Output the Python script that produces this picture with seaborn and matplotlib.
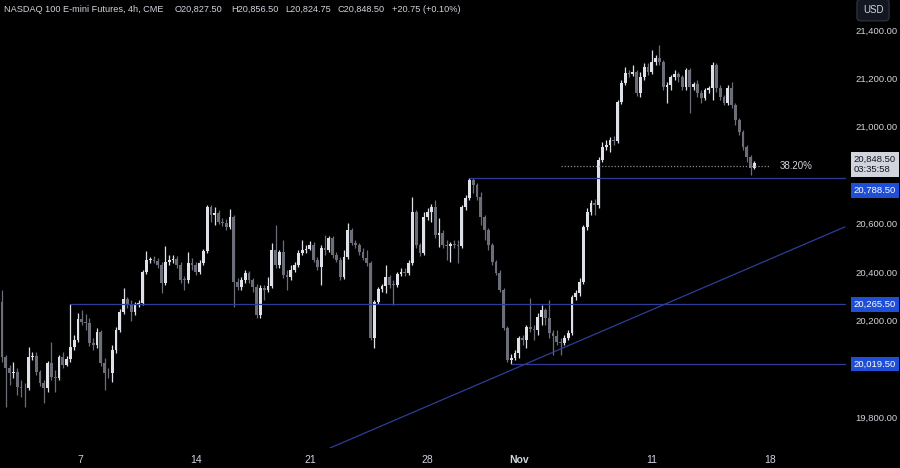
import numpy as np
import pandas as pd
import matplotlib
matplotlib.use("Agg")
import matplotlib.pyplot as plt
import matplotlib.transforms as mtransforms
import seaborn as sns

# NASDAQ 100 E-mini futures, 4h candles
first_open = 20276
closes = [
    20048, 20003, 19982, 19986, 19924, 19920, 19918, 20048, 20052, 19986,
    19941, 19920, 20023, 19965, 19962, 20048, 20015, 20040, 20090, 20118,
    20205, 20193, 20189, 20106, 20098, 20152, 20023, 19982, 19980, 20077,
    20160, 20234, 20288, 20263, 20234, 20263, 20271, 20400, 20449, 20450,
    20447, 20429, 20354, 20441, 20449, 20453, 20429, 20367, 20365, 20437,
    20429, 20400, 20437, 20486, 20668, 20635, 20643, 20606, 20602, 20586,
    20627, 20358, 20338, 20367, 20395, 20367, 20338, 20222, 20333, 20325,
    20342, 20490, 20429, 20482, 20387, 20379, 20408, 20429, 20478, 20490,
    20495, 20511, 20449, 20420, 20499, 20490, 20540, 20470, 20449, 20379,
    20462, 20573, 20519, 20511, 20482, 20457, 20437, 20127, 20276, 20329,
    20342, 20379, 20346, 20344, 20391, 20400, 20395, 20437, 20648, 20511,
    20478, 20627, 20648, 20668, 20553, 20561, 20511, 20509, 20515, 20511,
    20507, 20668, 20705, 20780, 20759, 20710, 20627, 20573, 20511, 20441,
    20395, 20325, 20168, 20036, 20044, 20065, 20127, 20118, 20172, 20164,
    20160, 20214, 20242, 20209, 20147, 20135, 20110, 20106, 20127, 20147,
    20296, 20313, 20358, 20586, 20648, 20685, 20677, 20863, 20916, 20925,
    20945, 20941, 21102, 21181, 21222, 21220, 21226, 21140, 21206, 21247,
    21226, 21268, 21284, 21268, 21164, 21173, 21206, 21218, 21206, 21164,
    21235, 21164, 21177, 21140, 21119, 21152, 21160, 21255, 21160, 21123,
    21098, 21160, 21090, 21028, 20978, 20916, 20875, 20827.5, 20848.5,
]
highs = [
    20325, 20056, 20015, 20027, 20003, 19953, 19941, 20090, 20069, 20069,
    19994, 19953, 20032, 20110, 19994, 20056, 20069, 20052, 20265.5, 20139,
    20230, 20242, 20226, 20209, 20127, 20168, 20160, 20044, 20003, 20098,
    20172, 20247, 20333, 20296, 20284, 20276, 20284, 20408, 20486, 20462,
    20466, 20457, 20441, 20507, 20470, 20470, 20466, 20441, 20383, 20482,
    20457, 20441, 20449, 20495, 20677, 20677, 20668, 20656, 20623, 20619,
    20660, 20635, 20375, 20379, 20408, 20404, 20375, 20350, 20346, 20346,
    20379, 20519, 20594, 20490, 20532, 20408, 20429, 20441, 20490, 20532,
    20511, 20528, 20524, 20462, 20511, 20553, 20548, 20548, 20482, 20462,
    20490, 20602, 20581, 20532, 20519, 20499, 20490, 20445, 20284, 20338,
    20350, 20429, 20387, 20367, 20400, 20416, 20416, 20449, 20710, 20656,
    20519, 20648, 20664, 20681, 20697, 20623, 20573, 20532, 20524, 20532,
    20532, 20677, 20718, 20788.5, 20788, 20767, 20730, 20635, 20581, 20519,
    20449, 20408, 20333, 20176, 20061, 20077, 20135, 20139, 20180, 20292,
    20180, 20230, 20263, 20251, 20284, 20160, 20160, 20127, 20139, 20160,
    20305, 20325, 20375, 20594, 20664, 20697, 20701, 20875, 20937, 20945,
    20958, 20962, 21111, 21193, 21247, 21235, 21255, 21235, 21226, 21264,
    21264, 21317, 21297, 21338, 21276, 21185, 21214, 21235, 21226, 21214,
    21243, 21243, 21185, 21193, 21152, 21160, 21168, 21268, 21264, 21173,
    21131, 21173, 21185, 21098, 21036, 20987, 20925, 20883, 20856.5,
]
lows = [
    20027, 19841, 19932, 19961, 19891, 19883, 19841, 19912, 20036, 19974,
    19928, 19858, 19903, 19953, 19903, 19953, 20003, 20011, 20027, 20077,
    20110, 20180, 20160, 20094, 20077, 20085, 20011, 19912, 19961, 19945,
    20065, 20152, 20226, 20251, 20197, 20222, 20255, 20263, 20391, 20437,
    20437, 20416, 20313, 20346, 20429, 20437, 20416, 20354, 20325, 20354,
    20408, 20387, 20391, 20429, 20478, 20606, 20594, 20598, 20590, 20573,
    20577, 20255, 20325, 20325, 20354, 20354, 20317, 20209, 20209, 20284,
    20317, 20333, 20416, 20416, 20375, 20325, 20367, 20400, 20420, 20470,
    20478, 20490, 20441, 20408, 20346, 20470, 20482, 20457, 20441, 20367,
    20371, 20453, 20511, 20499, 20470, 20449, 20424, 20118, 20085, 20267,
    20317, 20313, 20333, 20263, 20338, 20383, 20383, 20387, 20429, 20499,
    20466, 20470, 20614, 20606, 20540, 20503, 20499, 20449, 20441, 20499,
    20437, 20499, 20656, 20697, 20726, 20697, 20594, 20532, 20490, 20429,
    20387, 20317, 20160, 20027, 20019.5, 20036, 20044, 20098, 20085, 20152,
    20118, 20139, 20180, 20180, 20127, 20056, 20098, 20056, 20098, 20118,
    20139, 20284, 20300, 20350, 20573, 20635, 20635, 20664, 20854, 20904,
    20896, 20925, 20933, 21094, 21173, 21206, 21210, 21127, 21123, 21193,
    21214, 21218, 21255, 21255, 21152, 21098, 21152, 21193, 21185, 21152,
    21152, 21057, 21152, 21123, 21098, 21111, 21140, 21111, 21144, 21111,
    21090, 21090, 21078, 21007, 20966, 20904, 20854, 20801, 20824.75,
]

# drawn levels
levels = [20788.5, 20265.5, 20019.5]
level_start_bar = [123, 18, 134]
fib_level = 20836
fib_label = "38.20%"
trend_bars = [86.3, 221.8]
trend_prices = [19672, 20586]

last_price = 20848.5
countdown = "03:35:58"

date_labels = ["7", "14", "21", "28", "Nov", "11", "18"]
date_bars = [20.5, 51, 81, 112, 136, 171, 202]
price_ticks = [19800, 20200, 20400, 20600, 21000, 21200, 21400]

header_parts = ["NASDAQ 100 E-mini Futures, 4h, CME", "O20,827.50", "H20,856.50",
                "L20,824.75", "C20,848.50", "+20.75 (+0.10%)"]
header_px = [4, 175, 231, 285, 338, 392]

df = pd.DataFrame({"close": closes, "high": highs, "low": lows})
df["open"] = [first_open] + closes[:-1]
df["bar"] = np.arange(len(df))
df["up"] = df["close"] >= df["open"]

sns.set_theme(style="dark", rc={
    "axes.facecolor": "black", "figure.facecolor": "black",
    "axes.edgecolor": "black", "grid.color": "black",
})
plt.rcParams["font.family"] = ["Liberation Sans", "DejaVu Sans"]

fig = plt.figure(figsize=(9, 4.68), dpi=100)
ax = fig.add_axes([0, 20 / 468, 846 / 900, 448 / 468])
ax.set_facecolor("black")

up_col = "#dfe1e8"
dn_col = "#6b6e78"
line_col = "#2e3d98"
text_col = "#d1d4dc"

colors = np.where(df["up"], up_col, dn_col)
ax.vlines(df["bar"], df["low"], df["high"], colors=colors, lw=0.9)
body_h = (df["close"] - df["open"]).abs().clip(lower=4)
body_b = df[["open", "close"]].min(axis=1)
ax.bar(df["bar"], body_h, bottom=body_b, width=0.72, color=colors, linewidth=0)

x_right = 222.1
for lvl, start in zip(levels, level_start_bar):
    ax.hlines(lvl, start, x_right, color=line_col, lw=0.9)

sns.lineplot(x=trend_bars, y=trend_prices, ax=ax, color=line_col, lw=0.9)
ax.hlines(fib_level, 147, 202, color="#8a8d96", lw=0.9, linestyles=(0, (1, 1.5)))
ax.text(209, fib_level, fib_label, color=text_col, fontsize=7, ha="center", va="center")

ax.set_xlim(-0.53, x_right)
ax.set_ylim(19672, 21524)
ax.grid(False)

ax.set_xticks(date_bars)
ax.set_xticklabels(date_labels)
for lab in ax.get_xticklabels():
    lab.set_color(text_col)
    lab.set_fontsize(7.5)
    if lab.get_text() == "Nov":
        lab.set_fontweight("bold")
ax.tick_params(axis="x", length=0, pad=5)

ax.yaxis.tick_right()
ax.set_yticks(price_ticks)
ax.set_yticklabels([f"{p:,.2f}" for p in price_ticks])
ax.tick_params(axis="y", length=0, pad=7, labelsize=6.8, labelcolor=text_col)
for s in ax.spines.values():
    s.set_visible(False)

trans = mtransforms.blended_transform_factory(fig.transFigure, ax.transData)
box_x = 851 / 900
ax.annotate(f"{last_price:,.2f}\n{countdown}", xy=(box_x, last_price), xycoords=trans,
            xytext=(2, 6), textcoords="offset points", ha="left", va="top",
            fontsize=6.8, color="#131722", linespacing=1.15,
            bbox=dict(boxstyle="square,pad=0.3", fc="#d1d4dc", ec="none"))
offsets = [-9, 0, 0]
for lvl, off in zip(levels, offsets):
    ax.annotate(f"{lvl:,.2f}", xy=(box_x, lvl), xycoords=trans,
                xytext=(2, off), textcoords="offset points", ha="left", va="center",
                fontsize=6.8, color="white",
                bbox=dict(boxstyle="square,pad=0.3", fc="#1e4fd6", ec="none"))

fig.text(873 / 900, 1 - 10 / 468, "USD", color=text_col, fontsize=7, ha="center", va="center",
         bbox=dict(boxstyle="round,pad=0.6,rounding_size=0.4", fc="#131722", ec="#2a2e39"))
for part, px in zip(header_parts, header_px):
    fig.text(px / 900, 1 - 9 / 468, part, color=text_col, fontsize=6.6, ha="left", va="center")

fig.savefig("out.png", dpi=100, facecolor="black")
